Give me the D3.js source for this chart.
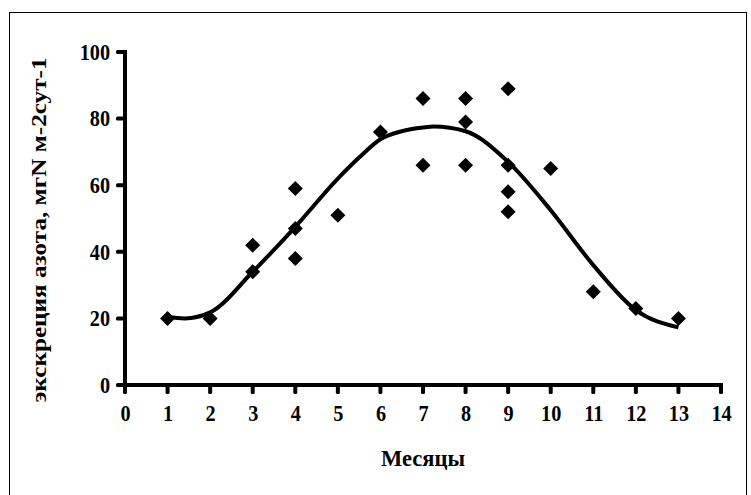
<!DOCTYPE html>
<html><head><meta charset="utf-8">
<script src="https://cdn.jsdelivr.net/npm/d3@7"></script>
<style>body{margin:0;background:#fff}svg{display:block}text{font-family:"Liberation Serif","Times New Roman",serif;font-weight:bold;fill:#000}</style>
</head><body>
<script>
// Observed points (month, excretion)
const months = [1,2,3,3,4,4,4,5,6,7,7,8,8,8,9,9,9,9,10,11,12,13];
const values = [20,20,42,34,59,47,38,51,76,86,66,86,79,66,89,66,58,52,65,28,23,20];
// Trend line
const trendX = [1,1.4,2,3,4,5,5.5,6,6.5,7,7.25,8,9,10,11,12,13];
const trendY = [20.4,20,21.8,34,47.5,62,68.3,73.8,76.2,77.3,77.6,76.2,67,52.5,36,22.5,17.3];
const xTicks = [0,1,2,3,4,5,6,7,8,9,10,11,12,13,14];
const yTicks = [0,20,40,60,80,100];
const xTitle = "Месяцы";
const yTitle = "экскреция азота, мгN м-2сут-1";

const W = 751, H = 495;
const svg = d3.select("body").append("svg").attr("width", W).attr("height", H);
svg.append("rect").attr("x", 9.5).attr("y", 12.5).attr("width", 737).attr("height", 500)
  .attr("fill", "none").attr("stroke", "#000").attr("stroke-width", 1);

const x = d3.scaleLinear().domain([0, 14]).range([125, 721]);
const y = d3.scaleLinear().domain([0, 100]).range([385, 52]);

function squeeze(sel, f) {
  sel.each(function () {
    const w = this.getComputedTextLength();
    d3.select(this).attr("textLength", w * f).attr("lengthAdjust", "spacingAndGlyphs");
  });
}

// axes (labels from d3 axes, lines drawn heavy)
const xAxis = d3.axisBottom(x).tickValues(xTicks).tickSize(0).tickPadding(20);
const gx = svg.append("g").attr("transform", `translate(0,${y(0)})`).call(xAxis);
const yAxis = d3.axisLeft(y).tickValues(yTicks).tickSize(0).tickPadding(15);
const gy = svg.append("g").attr("transform", `translate(${x(0)},0)`).call(yAxis);
[gx, gy].forEach(g => {
  g.select(".domain").remove();
  g.selectAll(".tick text").attr("font-size", 23).attr("font-family", "Liberation Serif").attr("font-weight", "bold").attr("fill", "#000");
});
squeeze(gx.selectAll(".tick text"), 0.88);
squeeze(gy.selectAll(".tick text"), 0.88);

const lw = 4;
const axisG = svg.append("g").attr("fill", "#000");
axisG.append("rect").attr("x", x(0) - lw / 2).attr("y", y(0) - lw / 2).attr("width", x(14) - x(0) + lw).attr("height", lw);
axisG.append("rect").attr("x", x(0) - lw / 2).attr("y", y(100) - lw / 2).attr("width", lw).attr("height", y(0) - y(100) + lw);
axisG.selectAll(".xt").data(xTicks).join("rect").attr("class", "xt")
  .attr("x", d => x(d) - lw / 2).attr("y", y(0)).attr("width", lw).attr("height", 9).attr("rx", 1.5);
axisG.selectAll(".yt").data(yTicks).join("rect").attr("class", "yt")
  .attr("x", x(0) - 9).attr("y", d => y(d) - lw / 2).attr("width", 9).attr("height", lw).attr("rx", 1.5);

// trend curve
const line = d3.line().x((d, i) => x(trendX[i])).y((d, i) => y(trendY[i])).curve(d3.curveMonotoneX);
svg.append("path").datum(trendY).attr("d", line).attr("fill", "none")
  .attr("stroke", "#000").attr("stroke-width", 4);

// diamonds
const r = 7.5;
svg.append("g").selectAll("path").data(months).join("path")
  .attr("d", (d, i) => {
    const cx = x(d), cy = y(values[i]);
    return `M${cx},${cy - r}L${cx + r},${cy}L${cx},${cy + r}L${cx - r},${cy}Z`;
  })
  .attr("fill", "#000");

// titles
svg.append("text").attr("x", 423).attr("y", 466).attr("text-anchor", "middle")
  .attr("font-size", 23).attr("textLength", 84).attr("lengthAdjust", "spacingAndGlyphs").text(xTitle);
svg.append("text").attr("transform", "translate(46,230) rotate(-90)").attr("text-anchor", "middle")
  .attr("font-size", 22).attr("textLength", 345).attr("lengthAdjust", "spacingAndGlyphs").text(yTitle);
</script>
</body></html>
